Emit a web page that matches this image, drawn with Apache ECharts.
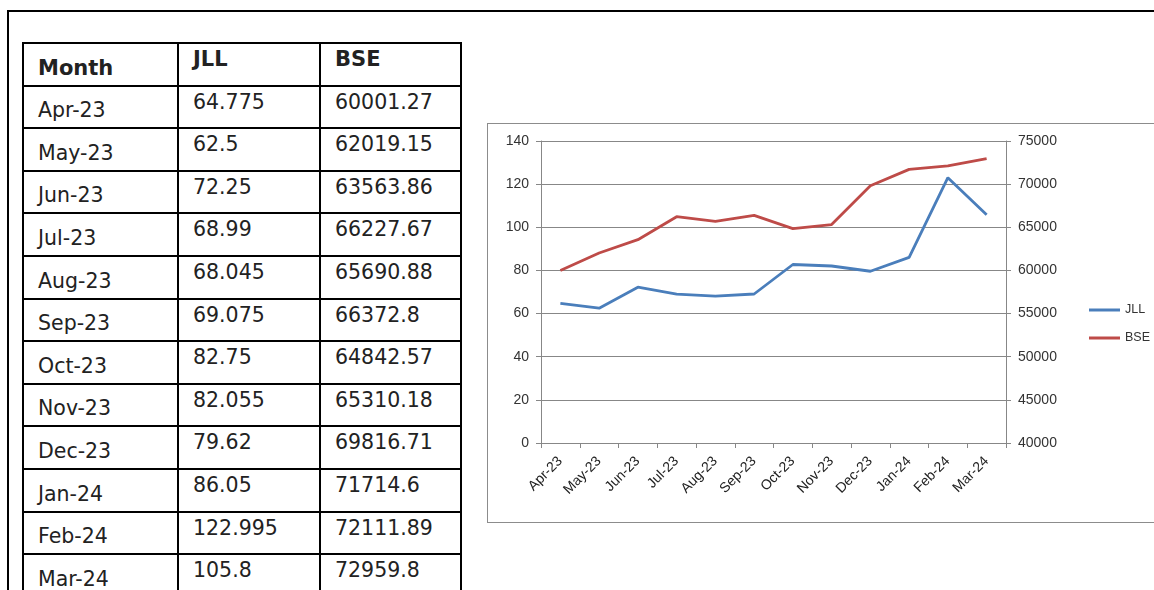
<!DOCTYPE html>
<html>
<head>
<meta charset="utf-8">
<script src="https://cdn.jsdelivr.net/npm/echarts@6/dist/echarts.min.js"></script>
<style>
  html, body { margin: 0; padding: 0; background: #fff; width: 1154px; height: 590px; overflow: hidden; }
  .frame {
    position: absolute; left: 7px; top: 10px; width: 1200px; height: 700px;
    border-left: 2px solid #000; border-top: 2px solid #000;
  }
  .data-table {
    position: absolute; left: 22px; top: 42px;
    border-collapse: collapse; table-layout: fixed;
    font-family: 'DejaVu Sans', sans-serif; font-size: 20.5px; color: #222;
  }
  .data-table td {
    border: 2px solid #000; height: 42.6px; padding: 0 0 0 14px; box-sizing: border-box;
  }
  .data-table td.m { vertical-align: bottom; padding-bottom: 5px; }
  .data-table td.v { vertical-align: top; padding-top: 3px; }
  .data-table tr.head td { font-weight: bold; font-size: 21px; }
  .chart-box {
    position: absolute; left: 487px; top: 123px; width: 700px; height: 400px;
    border: 1px solid #8c8c8c; box-sizing: border-box;
  }
  #chart { width: 698px; height: 398px; }
</style>
</head>
<body>
<div class="frame"></div>
<table class="data-table" id="dataTable">
  <colgroup><col style="width:155px"><col style="width:142px"><col style="width:141px"></colgroup>
</table>
<div class="chart-box"><div id="chart"></div></div>
<script>
// 数据
const months = ['Apr-23', 'May-23', 'Jun-23', 'Jul-23', 'Aug-23', 'Sep-23', 'Oct-23', 'Nov-23', 'Dec-23', 'Jan-24', 'Feb-24', 'Mar-24']
const jll = [64.775, 62.5, 72.25, 68.99, 68.045, 69.075, 82.75, 82.055, 79.62, 86.05, 122.995, 105.8]
const bse = [60001.27, 62019.15, 63563.86, 66227.67, 65690.88, 66372.8, 64842.57, 65310.18, 69816.71, 71714.6, 72111.89, 72959.8]
const headers = ['Month', 'JLL', 'BSE']

// 表格
const table = document.getElementById('dataTable')
const headRow = document.createElement('tr')
headRow.className = 'head'
headers.forEach((h, i) => {
  const td = document.createElement('td')
  td.className = i === 0 ? 'm' : 'v'
  td.textContent = h
  headRow.appendChild(td)
})
table.appendChild(headRow)
months.forEach((m, i) => {
  const tr = document.createElement('tr')
  ;[m, String(jll[i]), String(bse[i])].forEach((t, j) => {
    const td = document.createElement('td')
    td.className = j === 0 ? 'm' : 'v'
    td.textContent = t
    tr.appendChild(td)
  })
  table.appendChild(tr)
})

// 折线图
const myChart = echarts.init(document.getElementById('chart'))
const font = 'Liberation Sans'
const gridColor = '#878787'
const option = {
  animation: false,
  textStyle: { fontFamily: font },
  grid: { left: 53, top: 17, width: 465, height: 302 },
  legend: {
    orient: 'vertical',
    left: 596,
    top: 174,
    icon: 'rect',
    itemWidth: 31,
    itemHeight: 3,
    itemGap: 14,
    textStyle: { fontSize: 12.5, color: '#333', fontFamily: font, lineHeight: 14 },
    data: ['JLL', 'BSE']
  },
  xAxis: {
    type: 'category',
    data: months,
    boundaryGap: true,
    axisLine: { lineStyle: { color: gridColor } },
    axisTick: { show: true, length: 5, lineStyle: { color: gridColor } },
    axisLabel: { rotate: 45, fontSize: 14, color: '#222', margin: 16, interval: 0 }
  },
  yAxis: [
    {
      type: 'value',
      min: 0,
      max: 140,
      interval: 20,
      axisLine: { show: true, lineStyle: { color: gridColor } },
      axisTick: { show: true, length: 5, lineStyle: { color: gridColor } },
      axisLabel: { fontSize: 14, color: '#333', margin: 12 },
      splitLine: { show: true, lineStyle: { color: gridColor, width: 1 } }
    },
    {
      type: 'value',
      min: 40000,
      max: 75000,
      interval: 5000,
      axisLine: { show: true, lineStyle: { color: gridColor } },
      axisTick: { show: true, length: 5, lineStyle: { color: gridColor } },
      axisLabel: { fontSize: 14, color: '#333', margin: 12, formatter: (v) => String(v) },
      splitLine: { show: false }
    }
  ],
  series: [
    {
      name: 'JLL',
      type: 'line',
      yAxisIndex: 0,
      data: jll,
      symbol: 'none',
      lineStyle: { color: '#4a7ebb', width: 2.8 },
      itemStyle: { color: '#4a7ebb' }
    },
    {
      name: 'BSE',
      type: 'line',
      yAxisIndex: 1,
      data: bse,
      symbol: 'none',
      lineStyle: { color: '#be4b48', width: 2.8 },
      itemStyle: { color: '#be4b48' }
    }
  ]
}
option && myChart.setOption(option)
</script>
</body>
</html>
